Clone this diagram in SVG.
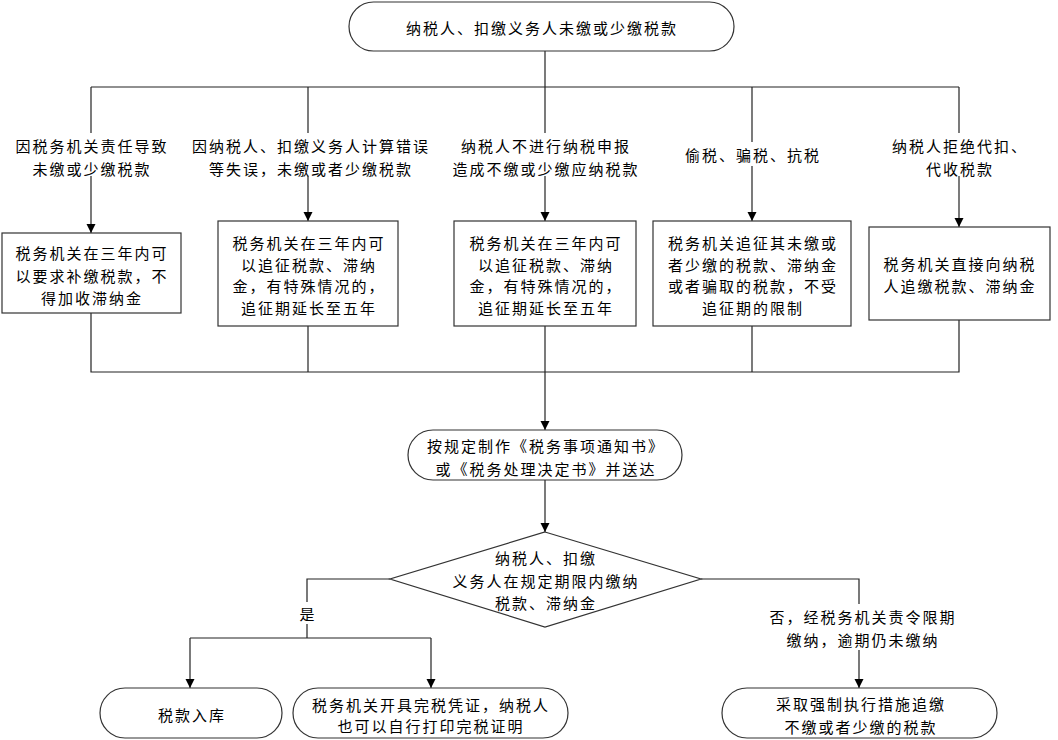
<svg xmlns="http://www.w3.org/2000/svg" width="1058" height="740" viewBox="0 0 1058 740">
<style>
text{font-family:"Noto Sans CJK SC","Liberation Sans",sans-serif;font-size:15px;fill:#000;text-anchor:middle;dominant-baseline:central;letter-spacing:2px}
.box{fill:#fff;stroke:#333;stroke-width:1.2}
.ln{fill:none;stroke:#222;stroke-width:1.2}
.bg{fill:#fff}
</style>
<defs>
<marker id="arr" markerWidth="10" markerHeight="10" refX="9" refY="5" orient="auto" markerUnits="userSpaceOnUse">
<path d="M0,0.5 L9,5 L0,9.5 Z" fill="#000"/>
</marker>
</defs>
<rect width="1058" height="740" fill="#fff"/>
<g id="connectors">
<path class="ln" d="M545,51 V87"/>
<path class="ln" d="M91,87 H959"/>
<path class="ln" d="M91,87 V233" marker-end="url(#arr)"/>
<path class="ln" d="M308,87 V221" marker-end="url(#arr)"/>
<path class="ln" d="M545,87 V221" marker-end="url(#arr)"/>
<path class="ln" d="M752,87 V221" marker-end="url(#arr)"/>
<path class="ln" d="M959,87 V227" marker-end="url(#arr)"/>
<path class="ln" d="M91,313 V372 H959 V320"/>
<path class="ln" d="M308,326 V372"/>
<path class="ln" d="M752,326 V372"/>
<path class="ln" d="M545,326 V430" marker-end="url(#arr)"/>
<path class="ln" d="M545,480 V532" marker-end="url(#arr)"/>
<path class="ln" d="M390,579 H307 V638"/>
<path class="ln" d="M190,638 H431"/>
<path class="ln" d="M190,638 V688" marker-end="url(#arr)"/>
<path class="ln" d="M431,638 V688" marker-end="url(#arr)"/>
<path class="ln" d="M701,579 H859 V688" marker-end="url(#arr)"/>
</g>
<g id="lbl-b1"><rect class="bg" x="10" y="133" width="164" height="43"/><text x="92" y="145">因税务机关责任导致</text><text x="92" y="168">未缴或少缴税款</text></g>
<g id="lbl-b2"><rect class="bg" x="188" y="133" width="244" height="43"/><text x="311" y="145">因纳税人、扣缴义务人计算错误</text><text x="311" y="168">等失误，未缴或者少缴税款</text></g>
<g id="lbl-b3"><rect class="bg" x="446" y="133" width="200" height="43"/><text x="546" y="145">纳税人不进行纳税申报</text><text x="546" y="168">造成不缴或少缴应纳税款</text></g>
<g id="lbl-b4"><rect class="bg" x="682" y="142" width="142" height="24"/><text x="753" y="154">偷税、骗税、抗税</text></g>
<g id="lbl-b5"><rect class="bg" x="890" y="133" width="140" height="43"/><text x="960" y="145">纳税人拒绝代扣、</text><text x="960" y="168">代收税款</text></g>
<g id="lbl-yes"><rect class="bg" x="298" y="602" width="18" height="22"/><text x="308" y="613">是</text></g>
<g id="lbl-no"><rect class="bg" x="762" y="604" width="200" height="46"/><text x="863" y="616">否，经税务机关责令限期</text><text x="863" y="639">缴纳，逾期仍未缴纳</text></g>
<g id="n-start"><rect class="box" x="349" y="2" width="385" height="49" rx="24.5"/><text x="542" y="27">纳税人、扣缴义务人未缴或少缴税款</text></g>
<g id="n-box1"><rect class="box" x="2" y="233" width="179" height="80"/><text x="92" y="252">税务机关在三年内可</text><text x="92" y="275">以要求补缴税款，不</text><text x="92" y="297">得加收滞纳金</text></g>
<g id="n-box2"><rect class="box" x="218" y="221" width="180" height="105"/><text x="309" y="242">税务机关在三年内可</text><text x="309" y="264">以追征税款、滞纳</text><text x="309" y="285">金，有特殊情况的，</text><text x="309" y="307">追征期延长至五年</text></g>
<g id="n-box3"><rect class="box" x="454" y="221" width="182" height="105"/><text x="546" y="242">税务机关在三年内可</text><text x="546" y="264">以追征税款、滞纳</text><text x="546" y="285">金，有特殊情况的，</text><text x="546" y="307">追征期延长至五年</text></g>
<g id="n-box4"><rect class="box" x="653" y="221" width="198" height="105"/><text x="753" y="242">税务机关追征其未缴或</text><text x="753" y="264">者少缴的税款、滞纳金</text><text x="753" y="285">或者骗取的税款，不受</text><text x="753" y="307">追征期的限制</text></g>
<g id="n-box5"><rect class="box" x="869" y="227" width="181" height="93"/><text x="960" y="263">税务机关直接向纳税</text><text x="960" y="285">人追缴税款、滞纳金</text></g>
<g id="n-notice"><rect class="box" x="408" y="430" width="274" height="50" rx="25"/><text x="546" y="445">按规定制作《税务事项通知书》</text><text x="546" y="468">或《税务处理决定书》并送达</text></g>
<g id="n-decision"><polygon class="box" points="545,532 701,579 545,627 390,579"/><text x="546" y="557">纳税人、扣缴</text><text x="546" y="580">义务人在规定期限内缴纳</text><text x="546" y="602">税款、滞纳金</text></g>
<g id="n-storage"><rect class="box" x="100" y="688" width="182" height="50" rx="25"/><text x="192" y="714">税款入库</text></g>
<g id="n-receipt"><rect class="box" x="293" y="688" width="275" height="50" rx="25"/><text x="431" y="704">税务机关开具完税凭证，纳税人</text><text x="431" y="725">也可以自行打印完税证明</text></g>
<g id="n-enforce"><rect class="box" x="722" y="688" width="275" height="50" rx="25"/><text x="861" y="703">采取强制执行措施追缴</text><text x="861" y="726">不缴或者少缴的税款</text></g>
</svg>
